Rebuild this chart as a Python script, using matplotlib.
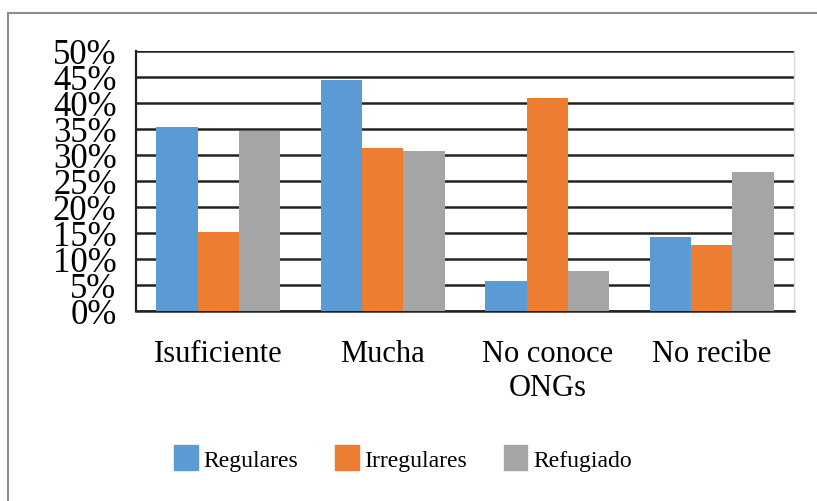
import matplotlib
matplotlib.use("Agg")
import matplotlib.pyplot as plt
import matplotlib.patches as mpatches
from matplotlib.lines import Line2D
import numpy as np

plt.rcParams['font.family'] = ['Liberation Serif', 'DejaVu Serif']

categories = ["Isuficiente", "Mucha", "No conoce\nONGs", "No recibe"]
series = ["Regulares", "Irregulares", "Refugiado"]
regulares = [35.3, 44.5, 5.8, 14.2]
irregulares = [15.1, 31.3, 41.0, 12.6]
refugiado = [34.7, 30.8, 7.6, 26.8]
yticks = [0, 5, 10, 15, 20, 25, 30, 35, 40, 45, 50]
colors = ["#5B9BD5", "#ED7D31", "#A5A5A5"]

W, H = 817, 502
fig = plt.figure(figsize=(W / 100, H / 100), dpi=100)
ax = fig.add_axes([136 / W, 1 - 312 / H, (794 - 136) / W, (312 - 52) / H])

x = np.arange(len(categories))
bw = 0.252
for i, vals in enumerate([regulares, irregulares, refugiado]):
    ax.bar(x + (i - 1) * bw, vals, bw, color=colors[i], zorder=3, label=series[i])

ax.set_xlim(-0.5, len(categories) - 0.5)
ax.set_ylim(0, 50)
ax.set_yticks(yticks)
ax.set_yticklabels([f"{t}%" for t in yticks], fontsize=25)
ax.set_xticks(x)
ax.set_xticklabels(categories, fontsize=22, linespacing=1.22)
ax.tick_params(axis='y', length=0, pad=14)
ax.tick_params(axis='x', length=0, pad=20)
ax.grid(axis='y', color='#222222', linewidth=1.8, zorder=0)
ax.set_axisbelow(True)
ax.spines['left'].set_color('#222222')
ax.spines['left'].set_linewidth(1.6)
ax.spines['bottom'].set_color('#222222')
ax.spines['bottom'].set_linewidth(1.8)
ax.spines['top'].set_visible(False)
ax.spines['right'].set_color('#d9d9d9')
ax.spines['right'].set_linewidth(1.0)

handles = [mpatches.Patch(color=c, label=s) for c, s in zip(colors, series)]
fig.legend(handles=handles, loc='center', bbox_to_anchor=(403 / W, 1 - 459 / H),
           ncol=3, frameon=False, fontsize=17, handlelength=1.0, handleheight=1.2,
           handletextpad=0.25, columnspacing=1.55)

# outer chart border (top and left only visible)
fig.add_artist(Line2D([8 / W, 1], [1 - 14 / H, 1 - 14 / H], color='#8c8c8c', linewidth=1.5,
                      transform=fig.transFigure))
fig.add_artist(Line2D([8 / W, 8 / W], [0, 1 - 14 / H], color='#8c8c8c', linewidth=1.5,
                      transform=fig.transFigure))

fig.savefig("out.png", dpi=100)
